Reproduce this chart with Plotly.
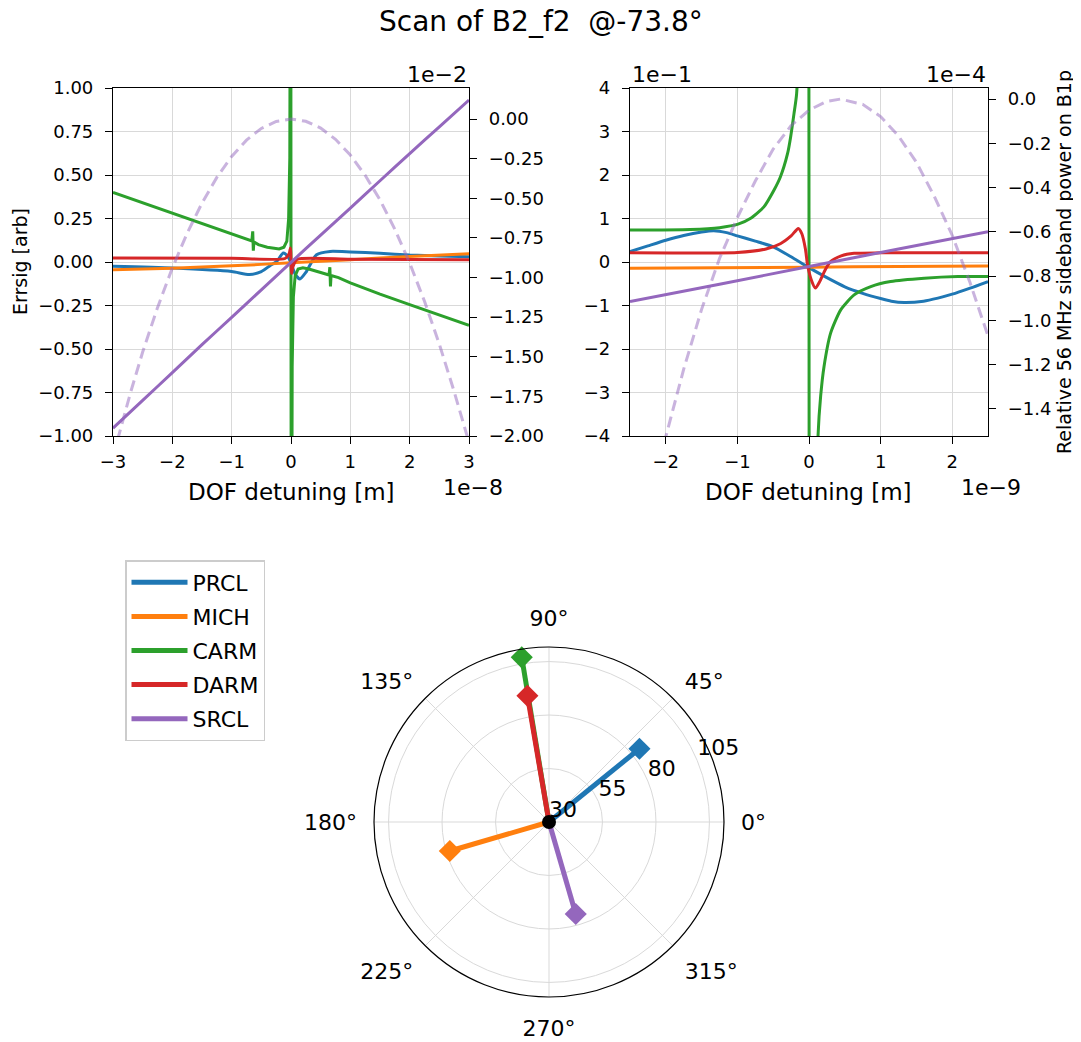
import plotly.graph_objects as go

W, H = 1073, 1034   # figure size; the page body adds an 8px margin at top/left
OFF = 8
FONT = "DejaVu Sans"
C_PRCL, C_MICH, C_CARM, C_DARM, C_SRCL = "#1f77b4", "#ff7f0e", "#2ca02c", "#d62728", "#9467bd"
C_POW = "rgba(148,103,189,0.5)"

# ---------------- Left panel (x in 1e-8 m, errsig in arb, power in 1e-2) ----------------
L_prcl_x = [-3, -2, -1, -0.7, -0.5, -0.35, -0.24, -0.13, -0.05, 0, 0.07, 0.15, 0.25, 0.43, 0.66, 1, 1.5, 2, 2.5, 3]
L_prcl_y = [-0.025, -0.035, -0.055, -0.072, -0.055, -0.02, 0.003, 0.052, 0.03, -0.006, -0.07, -0.098, -0.06, 0.042, 0.061, 0.058, 0.05, 0.04, 0.035, 0.03]

L_mich_x = [-3, -2, -1, 0, 1, 2, 3]
L_mich_y = [-0.045, -0.036, -0.022, -0.005, 0.013, 0.032, 0.048]

L_carm_x = [-3, -2.5, -2, -1.5, -1, -0.8, -0.66, -0.645, -0.635, -0.625, -0.55, -0.4, -0.3, -0.2, -0.12, -0.07,
            -0.04, -0.02, -0.005, 0.005, 0.02, 0.04, 0.07, 0.12, 0.2, 0.3, 0.5, 0.64, 0.655, 0.665, 0.675, 0.8,
            1, 1.5, 2, 2.5, 3]
L_carm_y = [0.40, 0.34, 0.282, 0.222, 0.162, 0.136, 0.121, 0.176, 0.065, 0.115, 0.10, 0.085, 0.078, 0.075, 0.085, 0.12,
            0.25, 0.6, 3.0, -3.0, -0.6, -0.2, -0.08, -0.04, -0.033, -0.04, -0.06, -0.075, -0.03, -0.14, -0.078, -0.09,
            -0.12, -0.185, -0.245, -0.305, -0.364]

L_darm_x = [-3, -1, -0.1, -0.03, -0.01, 0.01, 0.03, 0.1, 1, 3]
L_darm_y = [0.023, 0.021, 0.02, 0.05, 0.08, -0.065, -0.03, 0.015, 0.016, 0.013]

L_srcl_x = [-3, -2.5, -2, -1.5, -1, -0.5, 0, 0.5, 1, 1.5, 2, 2.5, 3]
L_srcl_y = [-0.955, -0.795, -0.636, -0.475, -0.318, -0.16, -0.002, 0.155, 0.31, 0.467, 0.623, 0.777, 0.931]

L_pow_x = [-3, -2.9, -2.7, -2.5, -2.25, -2, -1.75, -1.5, -1.25, -1, -0.75, -0.5, -0.25, 0, 0.25, 0.5, 0.75, 1,
           1.25, 1.5, 1.75, 2, 2.25, 2.5, 2.75, 2.96, 3]
L_pow_y = [-2.13, -1.99, -1.72, -1.47, -1.19, -0.94, -0.72, -0.53, -0.368, -0.236, -0.133, -0.059, -0.015, 0,
           -0.014, -0.057, -0.128, -0.227, -0.355, -0.51, -0.695, -0.908, -1.15, -1.42, -1.72, -1.99, -2.04]

# ---------------- Right panel (x in 1e-9 m, errsig in 1e-1, power in 1e-4) ----------------
R_prcl_x = [-2.5, -2.25, -2, -1.75, -1.5, -1.33, -1.15, -1, -0.75, -0.5, -0.25, 0, 0.25, 0.5, 0.75, 1, 1.15, 1.33,
            1.6, 1.8, 2, 2.25, 2.5]
R_prcl_y = [0.237, 0.37, 0.5, 0.61, 0.69, 0.72, 0.675, 0.6, 0.48, 0.35, 0.12, -0.13, -0.36, -0.57, -0.72, -0.84,
            -0.9, -0.93, -0.9, -0.83, -0.74, -0.6, -0.45]

R_mich_x = [-2.5, -1.25, 0, 1.25, 2.5]
R_mich_y = [-0.145, -0.13, -0.118, -0.104, -0.09]

R_carm_x = [-2.5, -1.66, -1.25, -0.99, -0.82, -0.63, -0.49, -0.4, -0.3, -0.257, -0.21, -0.173, -0.1, -0.01,
            0.01, 0.1, 0.126, 0.163, 0.21, 0.303, 0.443, 0.63, 0.863, 1.14, 1.61, 2.08, 2.5]
R_carm_y = [0.733, 0.748, 0.79, 0.87, 1.0, 1.267, 1.649, 1.954, 2.489, 2.87, 3.405, 3.863, 8, 30,
            -30, -7, -4.0, -3.08, -2.4, -1.63, -1.1, -0.756, -0.565, -0.45, -0.374, -0.336, -0.336]

R_darm_x = [-2.5, -1, -0.6, -0.4, -0.25, -0.15, -0.1, -0.05, -0.02, 0.03, 0.09, 0.15, 0.22, 0.3, 0.45, 0.63, 1, 2.5]
R_darm_y = [0.21, 0.22, 0.3, 0.42, 0.6, 0.77, 0.65, 0.3, -0.07, -0.4, -0.6, -0.45, -0.2, 0.007, 0.14, 0.2, 0.21, 0.21]

R_srcl_x = [-2.5, -1.25, 0, 1.25, 2.5]
R_srcl_y = [-0.91, -0.51, -0.105, 0.3, 0.695]

R_pow_x = [-2.1, -2, -1.75, -1.5, -1.25, -1, -0.75, -0.5, -0.25, 0, 0.25, 0.44, 0.75, 1, 1.25, 1.5, 1.75, 2, 2.25, 2.5]
R_pow_y = [-1.63, -1.525, -1.22, -0.95, -0.72, -0.535, -0.37, -0.226, -0.12, -0.05, -0.01, 0, -0.024, -0.079,
           -0.167, -0.285, -0.44, -0.615, -0.83, -1.07]

# ---------------- Polar (phase in deg, magnitude) ----------------
dof_names = ["PRCL", "MICH", "CARM", "DARM", "SRCL"]
dof_phase = [39.0, 196.3, 99.4, 99.7, 286.2]
dof_mag = [84.4, 78.3, 108.0, 89.9, 74.8]
r_ticks = [30, 55, 80, 105]
r_tick_labels = ["30", "55", "80", "105"]
theta_ticks = [0, 45, 90, 135, 180, 225, 270, 315]
theta_labels = ["0°", "45°", "90°", "135°", "180°", "225°", "270°", "315°"]
colors = [C_PRCL, C_MICH, C_CARM, C_DARM, C_SRCL]


def px(x):
    return (x - OFF) / W


def py(y):
    return 1 - (y - OFF) / H


fig = go.Figure()
LW = 3

left_sets = [(L_prcl_x, L_prcl_y, C_PRCL, True), (L_mich_x, L_mich_y, C_MICH, True),
             (L_carm_x, L_carm_y, C_CARM, False), (L_darm_x, L_darm_y, C_DARM, True),
             (L_srcl_x, L_srcl_y, C_SRCL, True)]
for xs, ys, c, smooth in left_sets:
    ln = dict(color=c, width=LW)
    if smooth:
        ln.update(shape="spline", smoothing=0.6)
    fig.add_trace(go.Scatter(x=xs, y=ys, mode="lines", line=ln, xaxis="x", yaxis="y", showlegend=False))
fig.add_trace(go.Scatter(x=L_pow_x, y=L_pow_y, mode="lines", line=dict(color=C_POW, width=LW, dash="11px,6px"),
                         xaxis="x", yaxis="y2", showlegend=False))

right_sets = [(R_prcl_x, R_prcl_y, C_PRCL), (R_mich_x, R_mich_y, C_MICH), (R_carm_x, R_carm_y, C_CARM),
              (R_darm_x, R_darm_y, C_DARM), (R_srcl_x, R_srcl_y, C_SRCL)]
for xs, ys, c in right_sets:
    fig.add_trace(go.Scatter(x=xs, y=ys, mode="lines", line=dict(color=c, width=LW, shape="spline", smoothing=0.6),
                             xaxis="x2", yaxis="y3", showlegend=False))
fig.add_trace(go.Scatter(x=R_pow_x, y=R_pow_y, mode="lines", line=dict(color=C_POW, width=LW, dash="11px,6px"),
                         xaxis="x2", yaxis="y4", showlegend=False))

r0 = r_ticks[0]
for name, ph, mag, c in zip(dof_names, dof_phase, dof_mag, colors):
    fig.add_trace(go.Scatterpolar(r=[r0, mag], theta=[ph, ph], mode="lines", name=name, legendgroup=name,
                                  line=dict(color=c, width=5), subplot="polar", showlegend=True))
    fig.add_trace(go.Scatterpolar(r=[mag], theta=[ph], mode="markers", name=name, legendgroup=name,
                                  marker=dict(symbol="diamond", size=17, color=c, opacity=1,
                                              line=dict(width=0)),
                                  subplot="polar", showlegend=False))
fig.add_trace(go.Scatterpolar(r=[r0], theta=[0], mode="markers",
                              marker=dict(color="black", size=14, opacity=1, line=dict(width=0)),
                              subplot="polar", showlegend=False))
# radial tick labels (matplotlib style: just above/right of the 22.5° ray)
fig.add_trace(go.Scatterpolar(r=r_ticks, theta=[22.5] * len(r_ticks), mode="text", text=r_tick_labels,
                              textposition="top right", textfont=dict(size=22, color="black"),
                              subplot="polar", showlegend=False, hoverinfo="skip", cliponaxis=False))

axis_common = dict(showline=True, linecolor="black", linewidth=1.2, ticks="outside", ticklen=7,
                   tickwidth=1.2, tickcolor="black", tickfont=dict(size=18, color="black"), zeroline=False,
                   automargin=False)
ycommon = dict(axis_common, ticklabelstandoff=8)
xcommon = dict(axis_common, ticklabelstandoff=2)
grid = dict(showgrid=True, gridcolor="#d9d9d9", gridwidth=1)

xd1 = [px(113), px(469)]
xd2 = [px(630), px(988)]
yd = [py(436), py(88)]

fig.update_layout(
    width=W, height=H, margin=dict(l=0, r=0, t=0, b=0, pad=0, autoexpand=False),
    paper_bgcolor="white", plot_bgcolor="white",
    font=dict(family=FONT, color="black"),
    xaxis=dict(domain=xd1, anchor="y", range=[-3, 3], tickvals=[-3, -2, -1, 0, 1, 2, 3], mirror=True,
               **xcommon, **grid),
    yaxis=dict(domain=yd, anchor="x", range=[-1, 1], tickvals=[1, 0.75, 0.5, 0.25, 0, -0.25, -0.5, -0.75, -1],
               tickformat=".2f", **ycommon, **grid),
    yaxis2=dict(overlaying="y", anchor="x", side="right", range=[-2.0, 0.196],
                tickvals=[0, -0.25, -0.5, -0.75, -1, -1.25, -1.5, -1.75, -2], tickformat=".2f",
                showgrid=False, **ycommon),
    xaxis2=dict(domain=xd2, anchor="y3", range=[-2.5, 2.5], tickvals=[-2, -1, 0, 1, 2], mirror=True,
                **xcommon, **grid),
    yaxis3=dict(domain=yd, anchor="x2", range=[-4, 4], tickvals=[-4, -3, -2, -1, 0, 1, 2, 3, 4],
                **ycommon, **grid),
    yaxis4=dict(overlaying="y3", anchor="x2", side="right", range=[-1.522, 0.05],
                tickvals=[0, -0.2, -0.4, -0.6, -0.8, -1.0, -1.2, -1.4], tickformat=".1f",
                showgrid=False, **ycommon),
    polar=dict(
        domain=dict(x=[px(374), px(724)], y=[py(997), py(647)]),
        bgcolor="white",
        radialaxis=dict(range=[30, 111.8], tickvals=r_ticks, angle=22.5, showticklabels=False,
                        showline=False, ticks="", gridcolor="#d9d9d9", gridwidth=1.2),
        angularaxis=dict(direction="counterclockwise", rotation=0, tickvals=theta_ticks, ticktext=theta_labels,
                         showline=True, linecolor="black", linewidth=1.2, gridcolor="#d9d9d9", gridwidth=1.2,
                         ticks="outside", ticklen=12, tickcolor="rgba(0,0,0,0)",
                         tickfont=dict(size=22, color="black")),
    ),
    legend=dict(x=px(125), y=py(560), xanchor="left", yanchor="top", bordercolor="#cccccc", borderwidth=1.5,
                bgcolor="white", font=dict(size=22, color="black"), itemwidth=56, tracegroupgap=2.5),
)

annotations = [
    dict(text="Scan of B2_f2 \u00a0@-73.8°", x=px(541), y=py(22), font=dict(size=28)),
    dict(text="Errsig [arb]", x=px(20), y=py(262), textangle=-90, font=dict(size=19)),
    dict(text="Relative 56 MHz sideband power on B1p", x=px(1064), y=py(262), textangle=-90, font=dict(size=19)),
    dict(text="DOF detuning [m]", x=px(291), y=py(492), font=dict(size=23)),
    dict(text="DOF detuning [m]", x=px(808), y=py(492), font=dict(size=23)),
    dict(text="1e\u22122", x=px(469), y=py(75), xanchor="right", font=dict(size=22)),
    dict(text="1e\u22121", x=px(630), y=py(75), xanchor="left", font=dict(size=22)),
    dict(text="1e\u22124", x=px(988), y=py(75), xanchor="right", font=dict(size=22)),
    dict(text="1e\u22128", x=px(473), y=py(488), font=dict(size=22)),
    dict(text="1e\u22129", x=px(991), y=py(488), font=dict(size=22)),
]
for a in annotations:
    a.setdefault("xanchor", "center")
    a.setdefault("yanchor", "middle")
    fig.add_annotation(xref="paper", yref="paper", showarrow=False, **a)

fig.write_html("out.html")
